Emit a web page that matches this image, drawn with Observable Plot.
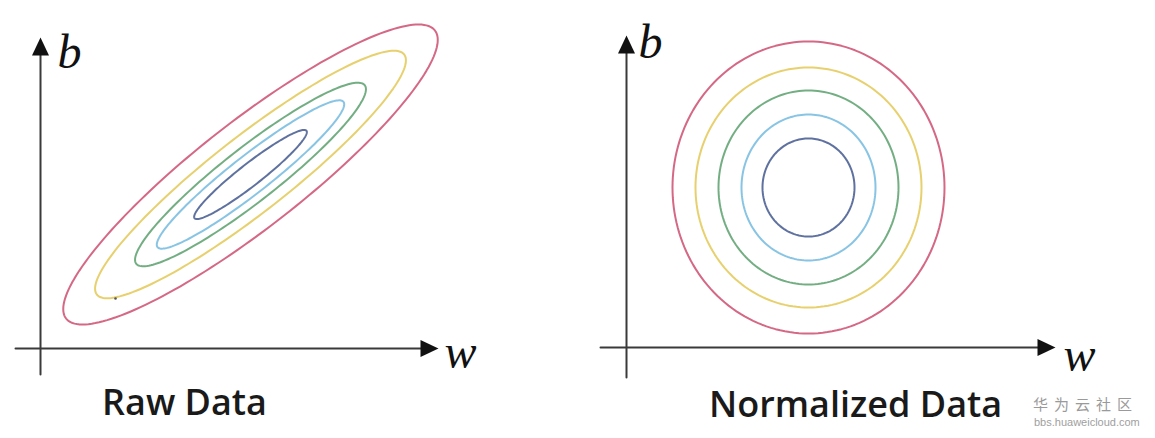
<!DOCTYPE html>
<html>
<head>
<meta charset="utf-8">
<script src="https://cdn.jsdelivr.net/npm/d3@7"></script>
<script src="https://cdn.jsdelivr.net/npm/@observablehq/plot@0.6"></script>
<style>
  html, body { margin: 0; padding: 0; background: #fff; }
  #wrap { position: relative; width: 1155px; height: 438px; overflow: hidden; background: #fff; }
  .panel { position: absolute; top: 0; }
  .caption { position: absolute; font-family: "Open Sans", "Noto Sans", sans-serif; font-size: 36px; font-weight: 600; line-height: 1; color: #1a1a1a; white-space: nowrap; }
  .wm1 { position: absolute; left: 1033px; top: 396px; font-family: "Noto Sans CJK SC", sans-serif; font-size: 15px; line-height: 1; color: #9a9a9a; letter-spacing: 6px; white-space: nowrap; }
  .wm2 { position: absolute; left: 1034px; top: 417px; font-family: "Liberation Sans", sans-serif; font-size: 11px; line-height: 1; color: #a0a0a0; white-space: nowrap; }
</style>
</head>
<body>
<div id="wrap"></div>
<script>
// ---------------- data ----------------
const contourLevels = ["L1", "L2", "L3", "L4", "L5"];          // outer -> inner
const contourColors = ["#d2607e", "#e6cd66", "#6caa7c", "#82c1e2", "#55699a"];

// Raw data panel: elongated, tilted contours (w, b units from the origin)
const rawCenter = [210, 174];
const rawAngle = 38;                                   // tilt of the long axis, degrees
const rawSemiMajor = [234, 195, 145, 118, 71];
const rawSemiMinor = [53, 38, 27, 19, 11];
const rawStray = [75, 50];                             // small stray mark

// Normalized data panel: near-circular contours
const normCenter = [182, 160];
const normRadiusW = [136, 113, 90, 67, 46];
const normRadiusB = [146, 120, 97, 73, 49];

// axis extents [start, arrow tip]
const rawAxisW = [-25, 398];
const rawAxisB = [-26, 311];
const normAxisW = [-26, 429];
const normAxisB = [-30, 312];

const axisNames = ["w", "b"];
const captions = ["Raw Data", "Normalized Data"];

// ---------------- helpers ----------------
function contour(level, cx, cy, a, b, deg) {
  const th = deg * Math.PI / 180, pts = [];
  for (let i = 0; i < 180; i++) {
    const t = i / 180 * 2 * Math.PI;
    pts.push({
      level,
      w: cx + a * Math.cos(t) * Math.cos(th) - b * Math.sin(t) * Math.sin(th),
      b: cy + a * Math.cos(t) * Math.sin(th) + b * Math.sin(t) * Math.cos(th)
    });
  }
  return pts;
}

const arrowHead = {
  draw(ctx) { ctx.moveTo(0, 0); ctx.lineTo(-8.5, 18); ctx.lineTo(8.5, 18); ctx.closePath(); }
};

const axisColor = "#3a3a3a";
const labelFont = "'Liberation Serif', 'DejaVu Serif', serif";

function axesMarks(axW, axB, bOff, wOff) {
  return [
    Plot.line([{w: axW[0], b: 0}, {w: axW[1] - 10, b: 0}], {x: "w", y: "b", stroke: axisColor, strokeWidth: 2}),
    Plot.line([{w: 0, b: axB[0]}, {w: 0, b: axB[1] - 10}], {x: "w", y: "b", stroke: axisColor, strokeWidth: 2}),
    Plot.dot([{w: 0, b: axB[1]}], {x: "w", y: "b", symbol: arrowHead, fill: "#111", stroke: "none", r: 5}),
    Plot.dot([{w: axW[1], b: 0}], {x: "w", y: "b", symbol: arrowHead, fill: "#111", stroke: "none", r: 5, rotate: 90}),
    Plot.text([axisNames[1]], {x: () => 0, y: () => axB[1], text: d => d, dx: bOff[0], dy: bOff[1],
      textAnchor: "start", lineAnchor: "bottom", fontSize: 48, fontStyle: "italic", fontFamily: labelFont, fill: "#111"}),
    Plot.text([axisNames[0]], {x: () => axW[1], y: () => 0, text: d => d, dx: wOff[0], dy: wOff[1],
      textAnchor: "start", lineAnchor: "bottom", fontSize: 48, fontStyle: "italic", fontFamily: labelFont, fill: "#111"})
  ];
}

// ---------------- left panel ----------------
const rawData = contourLevels.flatMap((lv, i) =>
  contour(lv, rawCenter[0], rawCenter[1], rawSemiMajor[i], rawSemiMinor[i], rawAngle));

const left = Plot.plot({
  width: 580, height: 385, margin: 0,
  x: {domain: [-40, 540], axis: null},
  y: {domain: [-37, 348], axis: null},
  color: {domain: contourLevels, range: contourColors},
  style: {background: "transparent"},
  marks: [
    ...axesMarks(rawAxisW, rawAxisB, [17, 30], [6, 19]),
    Plot.line(rawData, {x: "w", y: "b", z: "level", stroke: "level", strokeWidth: 2, curve: "linear-closed", strokeOpacity: 0.95}),
    Plot.dot([rawStray], {x: d => d[0], y: d => d[1], r: 1.3, fill: "#555", stroke: "none"})
  ]
});
left.classList.add("panel");
left.style.left = "0px";

// ---------------- right panel ----------------
const normData = contourLevels.flatMap((lv, i) =>
  contour(lv, normCenter[0], normCenter[1], normRadiusW[i], normRadiusB[i], 0));

const right = Plot.plot({
  width: 575, height: 385, margin: 0,
  x: {domain: [-46, 529], axis: null},
  y: {domain: [-38, 347], axis: null},
  color: {domain: contourLevels, range: contourColors},
  style: {background: "transparent"},
  marks: [
    ...axesMarks(normAxisW, normAxisB, [12, 22], [8, 23]),
    Plot.line(normData, {x: "w", y: "b", z: "level", stroke: "level", strokeWidth: 2, curve: "linear-closed", strokeOpacity: 0.95})
  ]
});
right.classList.add("panel");
right.style.left = "580px";

const wrap = document.getElementById("wrap");
wrap.appendChild(left);
wrap.appendChild(right);

// captions below the plots
const cap1 = document.createElement("div");
cap1.className = "caption"; cap1.textContent = captions[0];
cap1.style.left = "102px"; cap1.style.top = "384px";
const cap2 = document.createElement("div");
cap2.className = "caption"; cap2.textContent = captions[1];
cap2.style.left = "709px"; cap2.style.top = "386px";
wrap.appendChild(cap1); wrap.appendChild(cap2);

// watermark
const wm1 = document.createElement("div"); wm1.className = "wm1"; wm1.textContent = "华为云社区";
const wm2 = document.createElement("div"); wm2.className = "wm2"; wm2.textContent = "bbs.huaweicloud.com";
wrap.appendChild(wm1); wrap.appendChild(wm2);
</script>
</body>
</html>
